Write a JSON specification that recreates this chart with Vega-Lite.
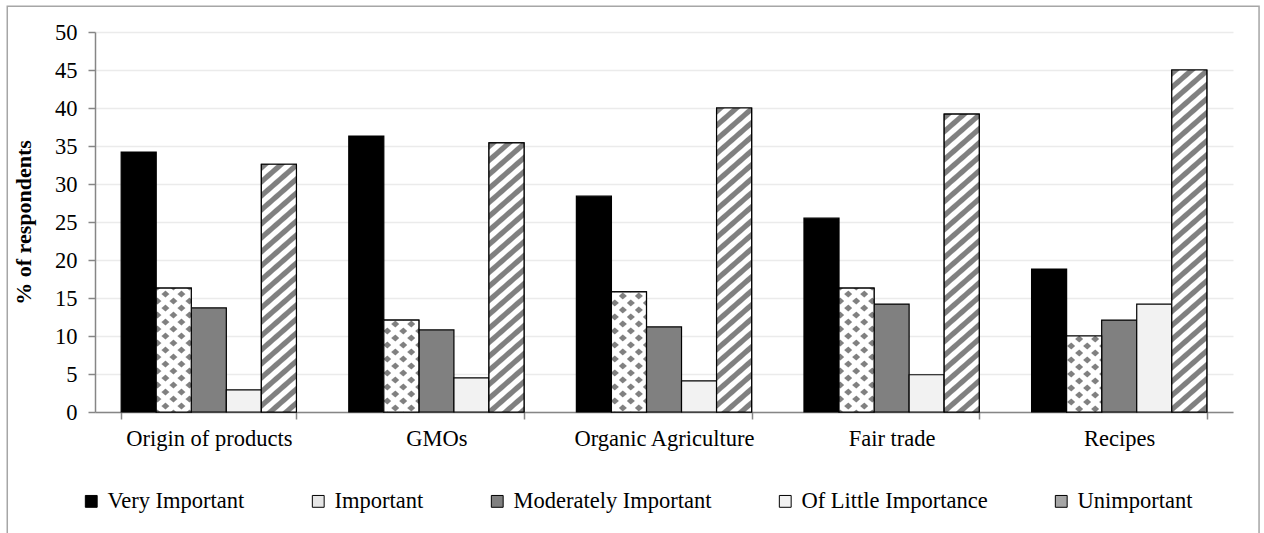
{
 "$schema": "https://vega.github.io/schema/vega-lite/v6.json",
 "width": 1138,
 "height": 380,
 "autosize": {"type": "none"},
 "padding": {"left": 95, "top": 32, "right": 31, "bottom": 121},
 "background": "white",
 "config": {
  "font": "Liberation Serif",
  "view": {"stroke": null},
  "axisX": {"tickBand": "extent", "labelAngle": 0, "labelFontSize": 22.5, "labelColor": "black", "labelPadding": 8, "labelLimit": 0, "domainColor": "#868686", "domainWidth": 1.5, "tickColor": "#868686", "tickWidth": 1.5, "tickSize": 7, "grid": false},
  "axisY": {"labelFontSize": 22.5, "labelColor": "black", "labelPadding": 11, "domainColor": "#868686", "domainWidth": 1.5, "tickColor": "#868686", "tickWidth": 1.5, "tickSize": 7, "grid": true, "gridColor": "#ebebeb", "gridWidth": 1.5, "titleFontSize": 22, "titleFontWeight": "bold", "titleColor": "black", "titlePadding": 19, "labelOverlap": false, "tickCount": 20}
 },
 "params": [
  {"name": "uS", "value": [
   {"offset":0.0019,"color":"#808080"},{"offset":0.0167,"color":"#808080"},{"offset":0.0204,"color":"#ffffff"},{"offset":0.0352,"color":"#ffffff"},
   {"offset":0.0389,"color":"#808080"},{"offset":0.0537,"color":"#808080"},{"offset":0.0574,"color":"#ffffff"},{"offset":0.0722,"color":"#ffffff"},
   {"offset":0.0760,"color":"#808080"},{"offset":0.0908,"color":"#808080"},{"offset":0.0945,"color":"#ffffff"},{"offset":0.1093,"color":"#ffffff"},
   {"offset":0.1130,"color":"#808080"},{"offset":0.1278,"color":"#808080"},{"offset":0.1315,"color":"#ffffff"},{"offset":0.1463,"color":"#ffffff"},
   {"offset":0.1500,"color":"#808080"},{"offset":0.1648,"color":"#808080"},{"offset":0.1685,"color":"#ffffff"},{"offset":0.1833,"color":"#ffffff"},
   {"offset":0.1871,"color":"#808080"},{"offset":0.2019,"color":"#808080"},{"offset":0.2056,"color":"#ffffff"},{"offset":0.2204,"color":"#ffffff"},
   {"offset":0.2241,"color":"#808080"},{"offset":0.2389,"color":"#808080"},{"offset":0.2426,"color":"#ffffff"},{"offset":0.2574,"color":"#ffffff"},
   {"offset":0.2612,"color":"#808080"},{"offset":0.2760,"color":"#808080"},{"offset":0.2797,"color":"#ffffff"},{"offset":0.2945,"color":"#ffffff"},
   {"offset":0.2982,"color":"#808080"},{"offset":0.3130,"color":"#808080"},{"offset":0.3167,"color":"#ffffff"},{"offset":0.3315,"color":"#ffffff"},
   {"offset":0.3352,"color":"#808080"},{"offset":0.3500,"color":"#808080"},{"offset":0.3537,"color":"#ffffff"},{"offset":0.3685,"color":"#ffffff"},
   {"offset":0.3723,"color":"#808080"},{"offset":0.3871,"color":"#808080"},{"offset":0.3908,"color":"#ffffff"},{"offset":0.4056,"color":"#ffffff"},
   {"offset":0.4093,"color":"#808080"},{"offset":0.4241,"color":"#808080"},{"offset":0.4278,"color":"#ffffff"},{"offset":0.4426,"color":"#ffffff"},
   {"offset":0.4463,"color":"#808080"},{"offset":0.4611,"color":"#808080"},{"offset":0.4648,"color":"#ffffff"},{"offset":0.4796,"color":"#ffffff"},
   {"offset":0.4834,"color":"#808080"},{"offset":0.4982,"color":"#808080"},{"offset":0.5019,"color":"#ffffff"},{"offset":0.5167,"color":"#ffffff"},
   {"offset":0.5204,"color":"#808080"},{"offset":0.5352,"color":"#808080"},{"offset":0.5389,"color":"#ffffff"},{"offset":0.5537,"color":"#ffffff"},
   {"offset":0.5575,"color":"#808080"},{"offset":0.5723,"color":"#808080"},{"offset":0.5760,"color":"#ffffff"},{"offset":0.5908,"color":"#ffffff"},
   {"offset":0.5945,"color":"#808080"},{"offset":0.6093,"color":"#808080"},{"offset":0.6130,"color":"#ffffff"},{"offset":0.6278,"color":"#ffffff"},
   {"offset":0.6315,"color":"#808080"},{"offset":0.6463,"color":"#808080"},{"offset":0.6500,"color":"#ffffff"},{"offset":0.6648,"color":"#ffffff"},
   {"offset":0.6686,"color":"#808080"},{"offset":0.6834,"color":"#808080"},{"offset":0.6871,"color":"#ffffff"},{"offset":0.7019,"color":"#ffffff"},
   {"offset":0.7056,"color":"#808080"},{"offset":0.7204,"color":"#808080"},{"offset":0.7241,"color":"#ffffff"},{"offset":0.7389,"color":"#ffffff"},
   {"offset":0.7426,"color":"#808080"},{"offset":0.7574,"color":"#808080"},{"offset":0.7611,"color":"#ffffff"},{"offset":0.7759,"color":"#ffffff"},
   {"offset":0.7797,"color":"#808080"},{"offset":0.7945,"color":"#808080"},{"offset":0.7982,"color":"#ffffff"},{"offset":0.8130,"color":"#ffffff"},
   {"offset":0.8167,"color":"#808080"},{"offset":0.8315,"color":"#808080"},{"offset":0.8352,"color":"#ffffff"},{"offset":0.8500,"color":"#ffffff"},
   {"offset":0.8538,"color":"#808080"},{"offset":0.8686,"color":"#808080"},{"offset":0.8723,"color":"#ffffff"},{"offset":0.8871,"color":"#ffffff"},
   {"offset":0.8908,"color":"#808080"},{"offset":0.9056,"color":"#808080"},{"offset":0.9093,"color":"#ffffff"},{"offset":0.9241,"color":"#ffffff"},
   {"offset":0.9278,"color":"#808080"},{"offset":0.9426,"color":"#808080"},{"offset":0.9463,"color":"#ffffff"},{"offset":0.9611,"color":"#ffffff"},
   {"offset":0.9649,"color":"#808080"},{"offset":0.9797,"color":"#808080"},{"offset":0.9834,"color":"#ffffff"},{"offset":0.9982,"color":"#ffffff"}
  ]},
  {"name": "dA", "value": [
   {"offset":0,"color":"#808080"},
   {"offset":0.0167,"color":"#808080"},{"offset":0.0250,"color":"#ffffff"},{"offset":0.0583,"color":"#ffffff"},{"offset":0.0667,"color":"#808080"},
   {"offset":0.1000,"color":"#808080"},{"offset":0.1083,"color":"#ffffff"},{"offset":0.1417,"color":"#ffffff"},{"offset":0.1500,"color":"#808080"},
   {"offset":0.1833,"color":"#808080"},{"offset":0.1917,"color":"#ffffff"},{"offset":0.2250,"color":"#ffffff"},{"offset":0.2333,"color":"#808080"},
   {"offset":0.2667,"color":"#808080"},{"offset":0.2750,"color":"#ffffff"},{"offset":0.3083,"color":"#ffffff"},{"offset":0.3167,"color":"#808080"},
   {"offset":0.3500,"color":"#808080"},{"offset":0.3583,"color":"#ffffff"},{"offset":0.3917,"color":"#ffffff"},{"offset":0.4000,"color":"#808080"},
   {"offset":0.4333,"color":"#808080"},{"offset":0.4417,"color":"#ffffff"},{"offset":0.4750,"color":"#ffffff"},{"offset":0.4833,"color":"#808080"},
   {"offset":0.5167,"color":"#808080"},{"offset":0.5250,"color":"#ffffff"},{"offset":0.5583,"color":"#ffffff"},{"offset":0.5667,"color":"#808080"},
   {"offset":0.6000,"color":"#808080"},{"offset":0.6083,"color":"#ffffff"},{"offset":0.6417,"color":"#ffffff"},{"offset":0.6500,"color":"#808080"},
   {"offset":0.6833,"color":"#808080"},{"offset":0.6917,"color":"#ffffff"},{"offset":0.7250,"color":"#ffffff"},{"offset":0.7333,"color":"#808080"},
   {"offset":0.7667,"color":"#808080"},{"offset":0.7750,"color":"#ffffff"},{"offset":0.8083,"color":"#ffffff"},{"offset":0.8167,"color":"#808080"},
   {"offset":0.8500,"color":"#808080"},{"offset":0.8583,"color":"#ffffff"},{"offset":0.8917,"color":"#ffffff"},{"offset":0.9000,"color":"#808080"},
   {"offset":0.9333,"color":"#808080"},{"offset":0.9417,"color":"#ffffff"},{"offset":0.9750,"color":"#ffffff"},{"offset":0.9833,"color":"#808080"}
  ]},
  {"name": "dB", "value": [
   {"offset":0,"color":"rgba(255,255,255,0)"},
   {"offset":0.0167,"color":"rgba(255,255,255,0)"},{"offset":0.0250,"color":"#ffffff"},{"offset":0.0583,"color":"#ffffff"},{"offset":0.0667,"color":"rgba(255,255,255,0)"},
   {"offset":0.1000,"color":"rgba(255,255,255,0)"},{"offset":0.1083,"color":"#ffffff"},{"offset":0.1417,"color":"#ffffff"},{"offset":0.1500,"color":"rgba(255,255,255,0)"},
   {"offset":0.1833,"color":"rgba(255,255,255,0)"},{"offset":0.1917,"color":"#ffffff"},{"offset":0.2250,"color":"#ffffff"},{"offset":0.2333,"color":"rgba(255,255,255,0)"},
   {"offset":0.2667,"color":"rgba(255,255,255,0)"},{"offset":0.2750,"color":"#ffffff"},{"offset":0.3083,"color":"#ffffff"},{"offset":0.3167,"color":"rgba(255,255,255,0)"},
   {"offset":0.3500,"color":"rgba(255,255,255,0)"},{"offset":0.3583,"color":"#ffffff"},{"offset":0.3917,"color":"#ffffff"},{"offset":0.4000,"color":"rgba(255,255,255,0)"},
   {"offset":0.4333,"color":"rgba(255,255,255,0)"},{"offset":0.4417,"color":"#ffffff"},{"offset":0.4750,"color":"#ffffff"},{"offset":0.4833,"color":"rgba(255,255,255,0)"},
   {"offset":0.5167,"color":"rgba(255,255,255,0)"},{"offset":0.5250,"color":"#ffffff"},{"offset":0.5583,"color":"#ffffff"},{"offset":0.5667,"color":"rgba(255,255,255,0)"},
   {"offset":0.6000,"color":"rgba(255,255,255,0)"},{"offset":0.6083,"color":"#ffffff"},{"offset":0.6417,"color":"#ffffff"},{"offset":0.6500,"color":"rgba(255,255,255,0)"},
   {"offset":0.6833,"color":"rgba(255,255,255,0)"},{"offset":0.6917,"color":"#ffffff"},{"offset":0.7250,"color":"#ffffff"},{"offset":0.7333,"color":"rgba(255,255,255,0)"},
   {"offset":0.7667,"color":"rgba(255,255,255,0)"},{"offset":0.7750,"color":"#ffffff"},{"offset":0.8083,"color":"#ffffff"},{"offset":0.8167,"color":"rgba(255,255,255,0)"},
   {"offset":0.8500,"color":"rgba(255,255,255,0)"},{"offset":0.8583,"color":"#ffffff"},{"offset":0.8917,"color":"#ffffff"},{"offset":0.9000,"color":"rgba(255,255,255,0)"},
   {"offset":0.9333,"color":"rgba(255,255,255,0)"},{"offset":0.9417,"color":"#ffffff"},{"offset":0.9750,"color":"#ffffff"},{"offset":0.9833,"color":"rgba(255,255,255,0)"}
  ]}
 ],
 "data": {"values": [
  {"cat":"Origin of products","level":"Very Important","value":34.2},
  {"cat":"Origin of products","level":"Important","value":16.3},
  {"cat":"Origin of products","level":"Moderately Important","value":13.7},
  {"cat":"Origin of products","level":"Of Little Importance","value":2.9},
  {"cat":"Origin of products","level":"Unimportant","value":32.6},
  {"cat":"GMOs","level":"Very Important","value":36.3},
  {"cat":"GMOs","level":"Important","value":12.1},
  {"cat":"GMOs","level":"Moderately Important","value":10.8},
  {"cat":"GMOs","level":"Of Little Importance","value":4.5},
  {"cat":"GMOs","level":"Unimportant","value":35.4},
  {"cat":"Organic Agriculture","level":"Very Important","value":28.4},
  {"cat":"Organic Agriculture","level":"Important","value":15.8},
  {"cat":"Organic Agriculture","level":"Moderately Important","value":11.2},
  {"cat":"Organic Agriculture","level":"Of Little Importance","value":4.1},
  {"cat":"Organic Agriculture","level":"Unimportant","value":40.0},
  {"cat":"Fair trade","level":"Very Important","value":25.5},
  {"cat":"Fair trade","level":"Important","value":16.3},
  {"cat":"Fair trade","level":"Moderately Important","value":14.2},
  {"cat":"Fair trade","level":"Of Little Importance","value":4.9},
  {"cat":"Fair trade","level":"Unimportant","value":39.2},
  {"cat":"Recipes","level":"Very Important","value":18.8},
  {"cat":"Recipes","level":"Important","value":10.0},
  {"cat":"Recipes","level":"Moderately Important","value":12.1},
  {"cat":"Recipes","level":"Of Little Importance","value":14.2},
  {"cat":"Recipes","level":"Unimportant","value":45.0}
 ]},
 "layer": [
  {
   "mark": {"type": "bar", "stroke": "black", "strokeWidth": 1.2},
   "encoding": {
    "x": {"field": "cat", "type": "nominal", "title": null, "scale": {"domain": ["Origin of products","GMOs","Organic Agriculture","Fair trade","Recipes"], "paddingInner": 0.23, "paddingOuter": 0.115}},
    "xOffset": {"field": "level", "type": "nominal", "scale": {"domain": ["Very Important","Important","Moderately Important","Of Little Importance","Unimportant"], "paddingInner": 0, "paddingOuter": 0}},
    "y": {"field": "value", "type": "quantitative", "title": "% of respondents", "scale": {"domain": [0, 50], "nice": false}, "axis": {"values": [0,5,10,15,20,25,30,35,40,45,50], "tickCount": 20}},
    "fill": {"field": "level", "type": "nominal",
     "scale": {"domain": ["Very Important","Important","Moderately Important","Of Little Importance","Unimportant"], "range": ["#000000","#e6e6e6","#808080","#f2f2f2","#a6a6a6"]},
     "legend": {"orient": "none", "legendX": -15, "legendY": 458, "direction": "horizontal", "columns": 5, "title": null, "symbolType": "square", "symbolSize": 140, "symbolStrokeColor": "black", "symbolStrokeWidth": 1, "symbolOpacity": 1, "labelFontSize": 22.5, "labelColor": "black", "labelOffset": 5, "columnPadding": 62, "padding": 0, "labelLimit": 400}}
   }
  },
  {
   "transform": [{"filter": "datum.level === 'Unimportant'"}],
   "mark": {"type": "bar", "stroke": "black", "strokeWidth": 1.2,
    "fill": {"expr": "{gradient:'linear',x1:0,y1:0,x2:7*bandwidth('xOffset')*3024/(49*pow(bandwidth('xOffset'),2)+64*pow(scale('y',0)-scale('y',datum.value),2)),y2:8*(scale('y',0)-scale('y',datum.value))*3024/(49*pow(bandwidth('xOffset'),2)+64*pow(scale('y',0)-scale('y',datum.value),2)),stops:uS}"}},
   "encoding": {
    "x": {"field": "cat", "type": "nominal", "title": null, "scale": {"domain": ["Origin of products","GMOs","Organic Agriculture","Fair trade","Recipes"], "paddingInner": 0.23, "paddingOuter": 0.115}},
    "xOffset": {"field": "level", "type": "nominal", "scale": {"domain": ["Very Important","Important","Moderately Important","Of Little Importance","Unimportant"], "paddingInner": 0, "paddingOuter": 0}},
    "y": {"field": "value", "type": "quantitative", "title": "% of respondents", "scale": {"domain": [0, 50], "nice": false}, "axis": {"values": [0,5,10,15,20,25,30,35,40,45,50], "tickCount": 20}}
   }
  },
  {
   "transform": [{"filter": "datum.level === 'Important'"}],
   "mark": {"type": "bar", "strokeWidth": 0,
    "fill": {"expr": "{gradient:'linear',x1:0,y1:0,x2:7*bandwidth('xOffset')*1344/(49*pow(bandwidth('xOffset'),2)+64*pow(scale('y',0)-scale('y',datum.value),2)),y2:8*(scale('y',0)-scale('y',datum.value))*1344/(49*pow(bandwidth('xOffset'),2)+64*pow(scale('y',0)-scale('y',datum.value),2)),stops:dA}"}},
   "encoding": {
    "x": {"field": "cat", "type": "nominal", "title": null, "scale": {"domain": ["Origin of products","GMOs","Organic Agriculture","Fair trade","Recipes"], "paddingInner": 0.23, "paddingOuter": 0.115}},
    "xOffset": {"field": "level", "type": "nominal", "scale": {"domain": ["Very Important","Important","Moderately Important","Of Little Importance","Unimportant"], "paddingInner": 0, "paddingOuter": 0}},
    "y": {"field": "value", "type": "quantitative", "title": "% of respondents", "scale": {"domain": [0, 50], "nice": false}, "axis": {"values": [0,5,10,15,20,25,30,35,40,45,50], "tickCount": 20}}
   }
  },
  {
   "transform": [{"filter": "datum.level === 'Important'"}],
   "mark": {"type": "bar", "stroke": "black", "strokeWidth": 1.2,
    "fill": {"expr": "{gradient:'linear',x1:0,y1:1,x2:7*bandwidth('xOffset')*1344/(49*pow(bandwidth('xOffset'),2)+64*pow(scale('y',0)-scale('y',datum.value),2)),y2:1-8*(scale('y',0)-scale('y',datum.value))*1344/(49*pow(bandwidth('xOffset'),2)+64*pow(scale('y',0)-scale('y',datum.value),2)),stops:dB}"}},
   "encoding": {
    "x": {"field": "cat", "type": "nominal", "title": null, "scale": {"domain": ["Origin of products","GMOs","Organic Agriculture","Fair trade","Recipes"], "paddingInner": 0.23, "paddingOuter": 0.115}},
    "xOffset": {"field": "level", "type": "nominal", "scale": {"domain": ["Very Important","Important","Moderately Important","Of Little Importance","Unimportant"], "paddingInner": 0, "paddingOuter": 0}},
    "y": {"field": "value", "type": "quantitative", "title": "% of respondents", "scale": {"domain": [0, 50], "nice": false}, "axis": {"values": [0,5,10,15,20,25,30,35,40,45,50], "tickCount": 20}}
   }
  },
  {
   "data": {"values": [{}]},
   "mark": {"type": "rect", "fill": "transparent", "stroke": "#a6a6a6", "strokeWidth": 1.5},
   "encoding": {
    "x": {"datum": "Origin of products", "bandPosition": -0.65},
    "x2": {"datum": "Recipes", "bandPosition": 1.298},
    "y": {"datum": 53.4, "title": "% of respondents", "axis": {"values": [0,5,10,15,20,25,30,35,40,45,50], "tickCount": 20}},
    "y2": {"datum": -18}
   }
  }
 ]
}
